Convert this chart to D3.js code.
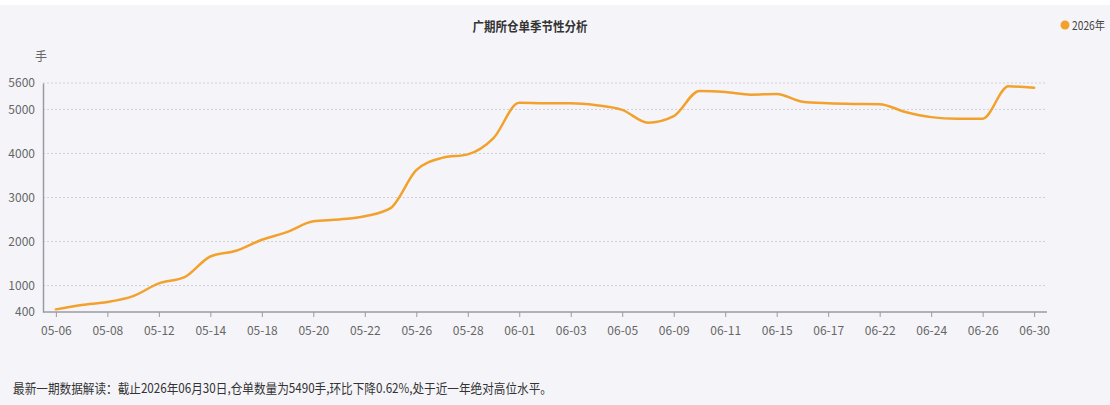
<!DOCTYPE html>
<html><head><meta charset="utf-8">
<script src="https://cdn.jsdelivr.net/npm/d3@7"></script>
<style>
html,body{margin:0;padding:0;background:#fff;}
svg{display:block;font-family:"Noto Sans CJK SC","Noto Sans",sans-serif;}
</style></head>
<body>
<svg id="chart" width="1110" height="405"></svg>
<script>
const dates = ["05-06","05-07","05-08","05-11","05-12","05-13","05-14","05-15","05-18","05-19",
  "05-20","05-21","05-22","05-25","05-26","05-27","05-28","05-29","06-01","06-02",
  "06-03","06-04","06-05","06-08","06-09","06-10","06-11","06-12","06-15","06-16",
  "06-17","06-18","06-22","06-23","06-24","06-25","06-26","06-29","06-30"];
const values2026 = [460,560,625,760,1050,1190,1660,1790,2040,2220,
  2460,2500,2575,2760,3620,3900,3980,4350,5150,5140,
  5140,5095,4990,4700,4850,5420,5395,5335,5350,5175,
  5140,5125,5120,4940,4825,4790,4790,5524,5490];
const yTicks = [400,1000,2000,3000,4000,5000,5600];
const seriesName = "2026年";
const titleText = "广期所仓单季节性分析";
const unitText = "手";
const noteText = "最新一期数据解读：截止2026年06月30日,仓单数量为5490手,环比下降0.62%,处于近一年绝对高位水平。";

(function(){
const svg = d3.select("#chart");
const W = 1110, H = 405;
const gLeft = 43, gRight = 1047, gTop = 83, gBottom = 312;
const lineColor = "#f2a12c";

svg.append("rect").attr("x",0).attr("y",5).attr("width",W).attr("height",H-5).attr("fill","#f5f5f9");

const x = d3.scaleBand().domain(dates).range([gLeft,gRight]).padding(0);
const y = d3.scaleLinear().domain([400,5600]).range([gBottom,gTop]);
const cx = d => x(d) + x.bandwidth()/2;

// gridlines
svg.append("g").selectAll("line").data(yTicks.filter(t=>t!==400)).join("line")
  .attr("x1",gLeft).attr("x2",gRight).attr("y1",d=>y(d)).attr("y2",d=>y(d))
  .attr("stroke","#cfd0d8").attr("stroke-width",1).attr("stroke-dasharray","2,2");

// y axis
const yAxis = svg.append("g").attr("transform",`translate(${gLeft},0)`)
  .call(d3.axisLeft(y).tickValues(yTicks).tickSize(0).tickPadding(8).tickFormat(d3.format("d")));
yAxis.select(".domain").attr("stroke","#9a9aa2").attr("stroke-width",1.5);
yAxis.selectAll("text").attr("fill","#666").attr("font-size",12)
  .attr("font-family","\"Noto Sans CJK SC\",sans-serif");

// x axis
const xAxis = svg.append("g").attr("transform",`translate(0,${gBottom})`)
  .call(d3.axisBottom(d3.scalePoint().domain(dates).range([cx(dates[0]),cx(dates[dates.length-1])]))
    .tickValues(dates.filter((d,i)=>i%2===0)).tickSize(5).tickPadding(9));
xAxis.select(".domain").remove();
xAxis.append("line").attr("x1",gLeft).attr("x2",gRight).attr("y1",0).attr("y2",0)
  .attr("stroke","#9a9aa2").attr("stroke-width",1.5);
xAxis.selectAll(".tick line").attr("stroke","#9a9aa2");
xAxis.selectAll("text").attr("fill","#666").attr("font-size",12)
  .attr("font-family","\"Noto Sans CJK SC\",sans-serif");

// line
const line = d3.line().x((d,i)=>cx(dates[i])).y(d=>y(d)).curve(d3.curveMonotoneX);
svg.append("path").datum(values2026).attr("d",line)
  .attr("fill","none").attr("stroke",lineColor).attr("stroke-width",2.5)
  .attr("stroke-linejoin","round").attr("stroke-linecap","round");

// unit
svg.append("text").attr("x",41).attr("y",61).attr("text-anchor","middle")
  .attr("font-size",12).attr("fill","#666").text(unitText);

// title
svg.append("text").attr("x",530).attr("y",31).attr("text-anchor","middle")
  .attr("font-size",13).attr("font-weight","bold").attr("fill","#333")
  .attr("textLength",115).attr("lengthAdjust","spacingAndGlyphs").text(titleText);

// legend
svg.append("circle").attr("cx",1065).attr("cy",25).attr("r",4.5).attr("fill",lineColor);
svg.append("text").attr("x",1072).attr("y",29.5).attr("font-size",12).attr("fill","#444")
  .attr("textLength",33).attr("lengthAdjust","spacingAndGlyphs").text(seriesName);

// note
svg.append("text").attr("x",13).attr("y",393).attr("font-size",13).attr("fill","#333")
  .attr("textLength",539).attr("lengthAdjust","spacingAndGlyphs").text(noteText);
})();
</script>
</body></html>
